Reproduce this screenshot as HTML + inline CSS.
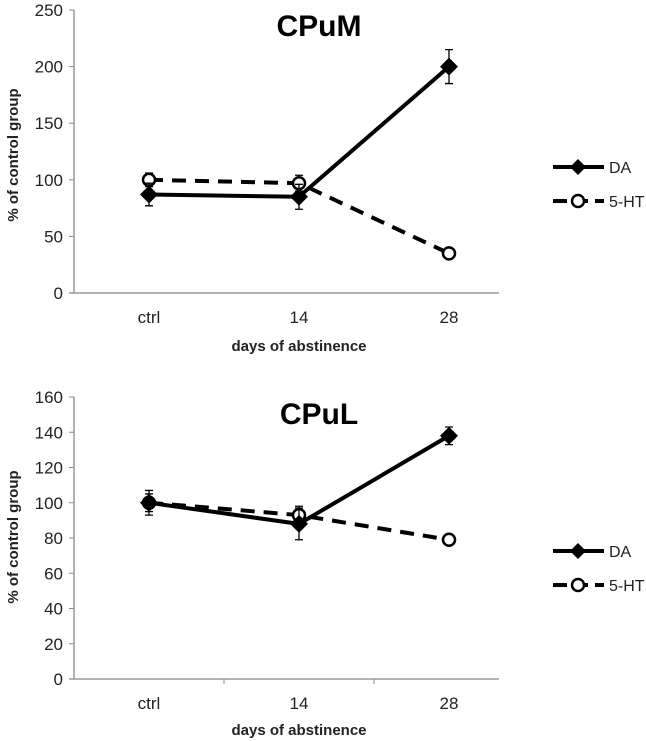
<!DOCTYPE html>
<html><head><meta charset="utf-8"><style>
body{margin:0;background:#fff;}
svg{display:block;font-family:"Liberation Sans","DejaVu Sans",sans-serif;}
</style></head><body>
<svg id="c" width="646" height="741"></svg>
<script>
const categories=["ctrl","14","28"];
const topDA=[87,85,200];
const topDAerr=[10,11,15];
const topHT=[100,97,35];
const topHTerr=[6,7,3];
const topTicks=[0,50,100,150,200,250];
const botDA=[100,88,138];
const botDAerr=[7,9,5];
const botHT=[100,93,79];
const botHTerr=[5,5,3];
const botTicks=[0,20,40,60,80,100,120,140,160];
const NS="http://www.w3.org/2000/svg";
const svg=document.getElementById('c');
function el(t,a,p){const e=document.createElementNS(NS,t);for(const k in a)e.setAttribute(k,a[k]);(p||svg).appendChild(e);return e;}
function chart(o){
  const g=el('g',{});
  
  
  const x0=74,x1=524,y0=o.yb,y1=o.yt,max=o.ticks[o.ticks.length-1];
  const X=i=>x0+(i+0.5)*(x1-x0)/categories.length;
  const Y=v=>y0-(v/max)*(y0-y1);
  const ya=el('line',{x1:x0,y1:y1,x2:x0,y2:y0,stroke:'#888','stroke-width':1.3},g);
  
  const xa=el('line',{x1:x0-5,y1:y0,x2:x1-25,y2:y0,stroke:'#888','stroke-width':1.3},g);
  
  o.ticks.forEach(t=>{
    el('line',{x1:x0-5,x2:x0,y1:Y(t),y2:Y(t),stroke:'#888'},g);
    const tx=el('text',{x:x0-11,y:Y(t)+6,'text-anchor':'end','font-size':17,fill:'#222'},g);
    tx.textContent=t;
    
  });
  if(o.xticks){for(let i=1;i<categories.length;i++){const xx=x0+i*(x1-x0)/categories.length;el('line',{x1:xx,x2:xx,y1:y0,y2:y0+5,stroke:'#888'},g);}}
  categories.forEach((c,i)=>{
    const tx=el('text',{x:X(i),y:y0+30,'text-anchor':'middle','font-size':17,fill:'#222'},g);
    tx.textContent=c;
    
  });
  const xt=el('text',{x:299,y:o.xtY,'text-anchor':'middle','font-size':15,'font-weight':'bold',fill:'#222'},g);
  xt.textContent='days of abstinence';
  
  const yt=el('text',{x:0,y:0,'text-anchor':'middle','font-size':15,'font-weight':'bold',fill:'#222',transform:`translate(18,${o.ytY}) rotate(-90)`},g);
  yt.textContent='% of control group';
  
  const ti=el('text',{x:319,y:o.titleY,'text-anchor':'middle','font-size':30,'font-weight':'bold',fill:'#000'},g);
  ti.textContent=o.title;
  
  function series(vals,errs,dash,marker,nm){
    const pl=el('polyline',{points:vals.map((v,i)=>X(i)+','+Y(v)).join(' '),fill:'none',stroke:'#000','stroke-width':4,'stroke-dasharray':dash},g);
    
    vals.forEach((v,i)=>{
      const x=X(i),t=Y(v+errs[i]),b=Y(v-errs[i]);
      const eb=el('path',{d:`M${x},${t}V${b}M${x-4},${t}H${x+4}M${x-4},${b}H${x+4}`,stroke:'#000','stroke-width':1.3,fill:'none'},g);
      
      let m;
      if(marker==='d'){m=el('path',{d:`M${x-9},${Y(v)}L${x},${Y(v)-9}L${x+9},${Y(v)}L${x},${Y(v)+9}Z`,fill:'#000'},g);}
      else{m=el('circle',{cx:x,cy:Y(v),r:6,fill:'#fff',stroke:'#000','stroke-width':2.5},g);}
      
    });
  }
  series(o.ht,o.hterr,'14,9','o','5ht');
  series(o.da,o.daerr,'none','d','da');
  [[o.legY1,'DA','none','d'],[o.legY2,'5-HT','14,7','o']].forEach(([ly,lab,dash,mk])=>{
    const lg=el('g',{},g);
    
    el('line',{x1:553,x2:604,y1:ly,y2:ly,stroke:'#000','stroke-width':4,'stroke-dasharray':dash},lg);
    if(mk==='d')el('path',{d:`M${570},${ly}L${578},${ly-8}L${586},${ly}L${578},${ly+8}Z`,fill:'#000'},lg);
    else el('circle',{cx:578,cy:ly,r:6,fill:'#fff',stroke:'#000','stroke-width':2.5},lg);
    const tx=el('text',{x:609,y:ly+6,'font-size':16,fill:'#222'},lg);tx.textContent=lab;
  });
}
chart({name:'cpum-chart',title:'CPuM',yt:10,yb:293,ticks:topTicks,da:topDA,daerr:topDAerr,ht:topHT,hterr:topHTerr,xtY:351,ytY:155,titleY:36,legY1:167,legY2:201,xticks:false});
chart({name:'cpul-chart',title:'CPuL',yt:397,yb:679,ticks:botTicks,da:botDA,daerr:botDAerr,ht:botHT,hterr:botHTerr,xtY:735,ytY:537,titleY:424,legY1:551,legY2:585,xticks:true});
</script>
</body></html>
